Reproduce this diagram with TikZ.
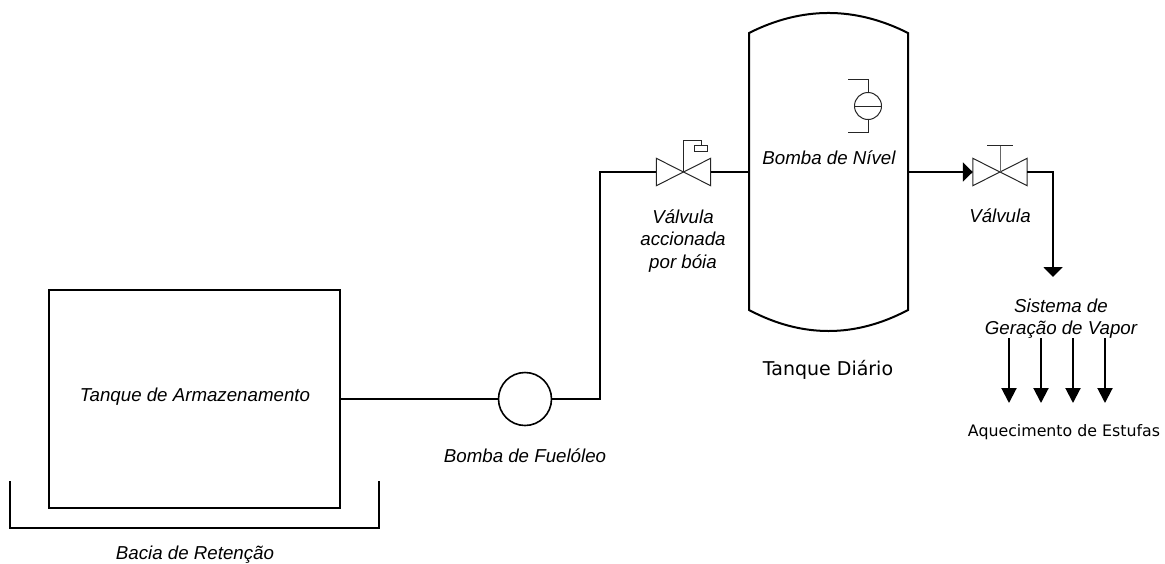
\documentclass[tikz,border=0pt]{standalone}
\usepackage{fontspec}
\setmainfont{Liberation Sans}
\newfontfamily\verdfont{DejaVu Sans}
\usetikzlibrary{arrows.meta}

\tikzset{
  tag/.style={font=\fontsize{18.7}{22.5}\selectfont\itshape,align=center,inner sep=0pt},
  plain/.style={font=\verdfont\fontsize{19}{22}\selectfont,inner sep=0pt},
  pipe/.style={line width=2pt,line join=miter},
  wall/.style={line width=2pt,line join=miter},
  thin line/.style={line width=1pt,draw=black!85},
  valvebox/.style={minimum width=54pt,minimum height=27pt,inner sep=0pt},
  headbig/.style={-{Triangle[length=10pt,width=19pt]}},
  headsmall/.style={-{Triangle[length=15pt,width=15pt]}}
}

\begin{document}
\begin{tikzpicture}[x=1pt,y=-1pt]
  \useasboundingbox (0,0) rectangle (1165,563);

  % storage tank and basin
  \node[draw,wall,minimum width=291pt,minimum height=218pt,inner sep=0pt] (armazem) at (194.5,399) {};
  \node[tag] (armazemlabel) at (195,397) {Tanque de Armazenamento};
  \draw[line width=2pt] (10,481) -- (10,527.5) -- (379,527.5) -- (379,481);
  \node[tag] (bacia) at (195,555) {Bacia de Retenção};

  % pump
  \node[circle,draw,line width=1.6pt,minimum size=53pt,inner sep=0pt] (bomba) at (525,399) {};
  \node[tag] (bombalabel) at (525,456) {Bomba de Fuelóleo};
  \coordinate (canto) at (600,399);
  \coordinate (cantoa) at (600,172);
  \draw[pipe,line width=1.6pt] (armazem.east |- bomba) -- (bomba.west);
  \draw[pipe,line width=1.6pt] (bomba.east) -- (canto) -- (cantoa) -- (cantoa -| 657,172);
  \draw[line width=2.6pt] (bomba.west) -- ++(-13,0);
  \draw[line width=2.6pt] (bomba.east) -- ++(13,0);

  % float valve
  \node[valvebox] (boia) at (683.5,172) {};
  \draw[thin line] (boia.north west) -- (boia.south east) -- (boia.north east) -- (boia.south west) -- cycle;
  \draw[thin line] (boia.center) -- (683.5,140) -- (701,140) -- (701,146);
  \node[draw,thin line,minimum width=13pt,minimum height=5.5pt,inner sep=0pt] (boiacaixa) at (700.5,148.7) {};
  \node[tag] (boialabel) at (683,241) {Válvula\\accionada\\por bóia};

  % daily tank
  \coordinate (entrada) at (749,172);
  \coordinate (saida) at (908,172);
  \draw[wall] (749,33) .. controls (802,6.3) and (855,6.3) .. (908,33) -- (908,310)
    .. controls (855,338) and (802,338) .. (749,310) -- cycle;
  \draw[pipe] (boia.east) -- (entrada);
  \node[plain] (diario) at (828,370) {Tanque Diário};

  % level pump
  \node[circle,draw,thin line,minimum size=27pt,inner sep=0pt] (nivel) at (868,106) {};
  \draw[thin line] (nivel.west) -- (nivel.east);
  \draw[thin line] (nivel.north) -- (868,79) -- (848,79);
  \draw[thin line] (nivel.south) -- (868,132) -- (848,132);
  \node[tag] (nivellabel) at (829,158) {Bomba de Nível};

  % outlet valve
  \node[valvebox] (valvula) at (1000,172) {};
  \draw[thin line] (valvula.north west) -- (valvula.south east) -- (valvula.north east) -- (valvula.south west) -- cycle;
  \draw[line width=1pt,draw=black!60] (valvula.center) -- (1000,145);
  \draw[thin line] (987,145) -- (1013,145);
  \node[tag] (valvulalabel) at (1000,216) {Válvula};
  \draw[pipe,headbig] (saida) -- (valvula.west);
  \coordinate (cantob) at (1053,172);
  \coordinate (vapor) at (1053,277);
  \draw[pipe,headbig] (valvula.east) -- (cantob) -- (vapor);

  % steam system
  \node[tag] (sistema) at (1061,318.5) {Sistema de\\Geração de Vapor};
  \foreach \i/\x in {a/1009,b/1041,c/1073,d/1105} {
    \coordinate (topo\i) at (\x,338);
    \coordinate (fim\i) at (\x,403);
    \draw[pipe,headsmall] (topo\i) -- (fim\i);
  }
  \node[plain,font=\verdfont\fontsize{15.8}{18}\selectfont] (estufas) at (1064,432) {Aquecimento de Estufas};
\end{tikzpicture}
\end{document}
